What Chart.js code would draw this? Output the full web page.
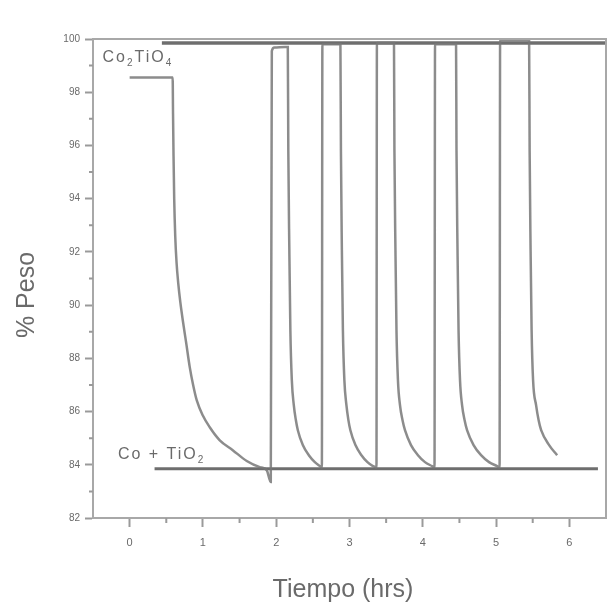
<!DOCTYPE html>
<html>
<head>
<meta charset="utf-8">
<script src="https://cdn.jsdelivr.net/npm/chart.js@4/dist/chart.umd.min.js"></script>
<style>
  html, body { margin: 0; padding: 0; background: #fff; }
</style>
</head>
<body>
<canvas id="tgaChart" width="612" height="607"></canvas>
<script>
// ticks
const xTicks = [0, 1, 2, 3, 4, 5, 6];
const xMinorTicks = [0.5, 1.5, 2.5, 3.5, 4.5, 5.5];
const yTicks = [82, 84, 86, 88, 90, 92, 94, 96, 98, 100];
const yMinorTicks = [83, 85, 87, 89, 91, 93, 95, 97, 99];

// TGA curve: first reduction, then oxidation / reduction cycles
const tiempoHrs = [
  0.0, 0.587, 0.592, 0.599, 0.608, 0.622, 0.640, 0.664, 0.692, 0.724, 0.772, 0.820, 0.867, 0.915, 0.997, 1.093, 1.230, 1.407, 1.598, 1.776, 1.870, 1.926,
  1.940, 1.975, 2.120,
  2.158, 2.165, 2.179, 2.193, 2.213, 2.240, 2.268, 2.295, 2.363, 2.445, 2.527, 2.596, 2.623,
  2.630, 2.869,
  2.876, 2.883, 2.896, 2.910, 2.930, 2.958, 2.985, 3.012, 3.081, 3.163, 3.245, 3.320, 3.368,
  3.374, 3.600,
  3.607, 3.613, 3.627, 3.641, 3.661, 3.689, 3.723, 3.757, 3.839, 3.934, 4.030, 4.126, 4.160,
  4.167, 4.447,
  4.454, 4.460, 4.474, 4.488, 4.508, 4.536, 4.570, 4.604, 4.693, 4.795, 4.904, 5.014, 5.048,
  5.055, 5.444,
  5.451, 5.458, 5.471, 5.485, 5.505, 5.546, 5.580, 5.615, 5.724, 5.833
];
const pesoPct = [
  98.55, 98.55, 97.20, 95.60, 94.00, 92.60, 91.60, 90.80, 90.10, 89.45, 88.57, 87.67, 86.99, 86.43, 85.86, 85.41, 84.92, 84.55, 84.14, 83.91, 83.80, 83.35,
  99.55, 99.68, 99.70,
  99.70, 95.83, 92.07, 89.06, 87.18, 86.24, 85.68, 85.30, 84.74, 84.36, 84.10, 83.95, 83.90,
  99.80, 99.80,
  99.80, 95.83, 92.07, 89.06, 87.18, 86.24, 85.68, 85.30, 84.74, 84.36, 84.10, 83.95, 83.90,
  99.85, 99.85,
  99.85, 95.83, 92.07, 89.06, 87.18, 86.24, 85.68, 85.30, 84.74, 84.36, 84.10, 83.95, 83.90,
  99.80, 99.80,
  99.80, 95.83, 92.07, 89.06, 87.18, 86.24, 85.68, 85.30, 84.74, 84.36, 84.10, 83.95, 83.90,
  99.95, 99.95,
  99.95, 95.83, 92.07, 89.06, 87.18, 86.24, 85.68, 85.30, 84.74, 84.36
];

// reference levels for the two phases
const nivelCo2TiO4Hrs = [0.44, 6.5];
const nivelCo2TiO4Peso = [99.85, 99.85];
const nivelCoTiO2Hrs = [0.34, 6.39];
const nivelCoTiO2Peso = [83.85, 83.85];

function toPoints(xs, ys) {
  return xs.map((x, i) => ({ x: x, y: ys[i] }));
}

const FONT = "'Liberation Sans', Arial, sans-serif";
const GRAY_TEXT = "#6a6a6a";
const FRAME = "#a8a8a8";

// text with subscripts: parts like [["Co"], ["2", true], ...]
function drawFormula(ctx, parts, x, y, size) {
  ctx.save();
  ctx.fillStyle = GRAY_TEXT;
  ctx.textBaseline = "alphabetic";
  ctx.textAlign = "left";
  ctx.letterSpacing = "2px";
  let cx = x;
  parts.forEach(([t, sub]) => {
    const fs = sub ? Math.round(size * 0.62) : size;
    ctx.font = fs + "px " + FONT;
    ctx.fillText(t, cx, sub ? y + size * 0.25 : y);
    cx += ctx.measureText(t).width;
  });
  ctx.restore();
}

const decorPlugin = {
  id: "decor",
  afterDraw(chart) {
    const { ctx, chartArea: a, scales: { x, y } } = chart;

    // frame
    ctx.save();
    ctx.strokeStyle = FRAME;
    ctx.lineWidth = 2;
    ctx.strokeRect(a.left, a.top, a.right - a.left, a.bottom - a.top);

    // minor ticks
    ctx.strokeStyle = "#9a9a9a";
    ctx.lineWidth = 2;
    ctx.beginPath();
    xMinorTicks.forEach(v => {
      const px = x.getPixelForValue(v);
      ctx.moveTo(px, a.bottom);
      ctx.lineTo(px, a.bottom + 5);
    });
    yMinorTicks.forEach(v => {
      const py = y.getPixelForValue(v);
      ctx.moveTo(a.left, py);
      ctx.lineTo(a.left - 4, py);
    });
    ctx.stroke();

    // axis titles
    ctx.fillStyle = GRAY_TEXT;
    ctx.font = "25px " + FONT;
    ctx.textAlign = "center";
    ctx.textBaseline = "middle";
    ctx.fillText("Tiempo (hrs)", 343, 590);
    ctx.translate(27, 295);
    ctx.rotate(-Math.PI / 2);
    ctx.fillText("% Peso", 0, 0);
    ctx.restore();

    // phase labels
    drawFormula(ctx, [["Co"], ["2", true], ["TiO"], ["4", true]],
      x.getPixelForValue(-0.37), y.getPixelForValue(99.13), 16);
    drawFormula(ctx, [["Co + TiO"], ["2", true]],
      x.getPixelForValue(-0.16), y.getPixelForValue(84.2), 16);
  }
};

new Chart(document.getElementById("tgaChart"), {
  type: "scatter",
  data: {
    datasets: [
      {
        data: toPoints(tiempoHrs, pesoPct),
        showLine: true,
        borderColor: "rgba(120,120,120,0.85)",
        borderWidth: 2.5,
        pointRadius: 0,
        cubicInterpolationMode: "monotone"
      },
      {
        data: toPoints(nivelCo2TiO4Hrs, nivelCo2TiO4Peso),
        showLine: true,
        borderColor: "rgba(85,85,85,0.85)",
        borderWidth: 3.5,
        pointRadius: 0
      },
      {
        data: toPoints(nivelCoTiO2Hrs, nivelCoTiO2Peso),
        showLine: true,
        borderColor: "rgba(85,85,85,0.85)",
        borderWidth: 3,
        pointRadius: 0
      }
    ]
  },
  options: {
    responsive: false,
    animation: false,
    layout: { padding: { top: 39, right: 6, left: 0, bottom: 0 } },
    plugins: {
      legend: { display: false },
      tooltip: { enabled: false }
    },
    scales: {
      x: {
        type: "linear",
        min: -0.5,
        max: 6.5,
        afterBuildTicks: scale => { scale.ticks = xTicks.map(v => ({ value: v })); },
        afterFit: scale => { scale.height = 89; },
        grid: { drawOnChartArea: false, tickLength: 9, tickWidth: 2, tickColor: "#9a9a9a" },
        border: { color: FRAME, width: 2 },
        ticks: {
          padding: 9,
          color: GRAY_TEXT,
          font: { family: FONT, size: 11 },
          maxRotation: 0
        }
      },
      y: {
        type: "linear",
        min: 82,
        max: 100,
        afterBuildTicks: scale => { scale.ticks = yTicks.map(v => ({ value: v })); },
        afterFit: scale => { scale.width = 93; },
        grid: { drawOnChartArea: false, tickLength: 8, tickWidth: 2, tickColor: "#9a9a9a" },
        border: { color: FRAME, width: 2 },
        ticks: {
          padding: 5,
          color: GRAY_TEXT,
          font: { family: FONT, size: 10 }
        }
      }
    }
  },
  plugins: [decorPlugin]
});
</script>
</body>
</html>
